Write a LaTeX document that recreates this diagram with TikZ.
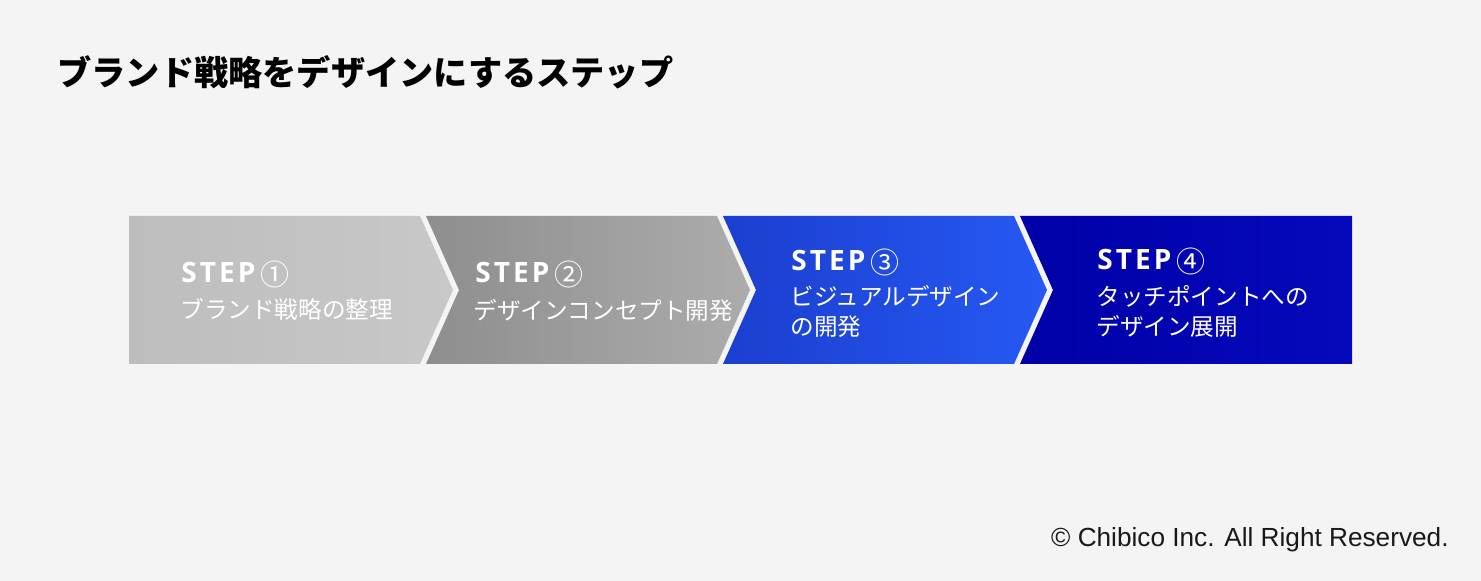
\documentclass[tikz,border=0pt]{standalone}
\usepackage{fontspec}
\setmainfont{Liberation Sans}
\newfontfamily\jpfont{Noto Sans CJK JP}
\newfontfamily\stepfont[LetterSpace=11]{Open Sans}
\definecolor{bgcol}{HTML}{F4F4F4}
\definecolor{stepAl}{HTML}{BDBDBD}
\definecolor{stepAr}{HTML}{C8C8C8}
\definecolor{stepBl}{HTML}{8E8E8E}
\definecolor{stepBr}{HTML}{ACACAC}
\definecolor{stepCl}{HTML}{1B3ECF}
\definecolor{stepCr}{HTML}{2659F3}
\definecolor{stepDl}{HTML}{0000A6}
\definecolor{stepDr}{HTML}{0509BC}
\newcommand{\circnum}[1]{\hspace{2.5pt}{\jpfont\mdseries\fontsize{14.5}{16}\selectfont\raisebox{-1.2pt}{#1}}}

\begin{document}
\begin{tikzpicture}[x=0.5pt,y=-0.5pt,
    steplabel/.style={anchor=base west,inner sep=0pt,text=white,font=\stepfont\bfseries\fontsize{14}{16}\selectfont},
    stepdesc/.style={anchor=west,inner sep=0pt,text=white,align=left,font=\jpfont\fontsize{11.8}{15}\selectfont}]
  \fill[bgcol] (0,0) rectangle (1481,581);
  % title
  \node[anchor=west,inner sep=0pt,font=\jpfont\bfseries\fontsize{17.1}{20}\selectfont] (title) at (57,72) {ブランド戦略をデザインにするステップ};
  % arrows: start / notch / corner / tip
  \foreach \xa/\xn/\xc/\xt/\lc/\rc in {129/129/420/453/stepAl/stepAr,
      426/459/717/750/stepBl/stepBr, 723/756/1014/1047/stepCl/stepCr,
      1020/1053/1352/1352/stepDl/stepDr}{
    \shade[left color=\lc,right color=\rc] (\xa,216) -- (\xc,216) -- (\xt,290)
      -- (\xc,364) -- (\xa,364) -- (\xn,290) -- cycle;
  }
  \node[steplabel] (step1) at (181,283) {STEP\circnum{①}};
  \node[stepdesc] (desc1) at (180,309) {ブランド戦略の整理};
  \node[steplabel] (step2) at (475,283) {STEP\circnum{②}};
  \node[stepdesc] (desc2) at (473,310) {デザインコンセプト開発};
  \node[steplabel] (step3) at (791,271) {STEP\circnum{③}};
  \node[stepdesc] (desc3) at (790,311) {ビジュアルデザイン\\の開発};
  \node[steplabel] (step4) at (1097,270) {STEP\circnum{④}};
  \node[stepdesc] (desc4) at (1096,311) {タッチポイントへの\\デザイン展開};
  % footer
  \node[anchor=base east,inner sep=0pt,text=black!90,font=\fontsize{13.1}{16}\selectfont] (copy) at (1449,546) {© Chibico Inc. All Right Reserved.};
\end{tikzpicture}
\end{document}
